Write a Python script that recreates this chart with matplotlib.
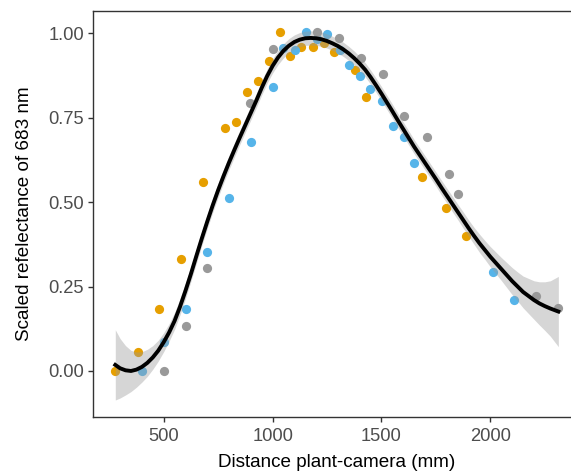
import numpy as np
import matplotlib
matplotlib.use("Agg")
import matplotlib.pyplot as plt

plt.rcParams['font.family'] = ['Liberation Sans', 'DejaVu Sans']

#%% data
orange_x = [278, 381, 480, 581, 682, 783, 832, 884, 932, 983, 1033, 1081, 1132,
            1185, 1234, 1283, 1379, 1430, 1687, 1794, 1889]
orange_y = [0.000, 0.055, 0.183, 0.333, 0.559, 0.718, 0.737, 0.825, 0.860, 0.917,
            1.003, 0.934, 0.959, 0.959, 0.970, 0.944, 0.892, 0.810, 0.573, 0.484, 0.401]

blue_x = [401, 500, 603, 700, 801, 902, 1002, 1050, 1104, 1155, 1204, 1252, 1311,
          1349, 1402, 1448, 1502, 1555, 1603, 1651, 2012, 2110]
blue_y = [0.000, 0.085, 0.183, 0.352, 0.511, 0.677, 0.841, 0.956, 0.949, 1.003,
          0.983, 0.998, 0.951, 0.906, 0.872, 0.834, 0.798, 0.724, 0.694, 0.617,
          0.294, 0.209]

grey_x = [500, 603, 700, 895, 1004, 1206, 1303, 1407, 1506, 1605, 1708, 1809,
          1853, 2210, 2312]
grey_y = [0.000, 0.134, 0.305, 0.793, 0.954, 1.003, 0.985, 0.928, 0.879, 0.756,
          0.694, 0.583, 0.525, 0.221, 0.186]

# smoother (loess) line and its confidence band, read every ~25 mm
fit_x = [278, 300, 325, 350, 375, 400, 425, 450, 475, 500, 525, 550, 575, 600,
         625, 650, 675, 700, 725, 750, 775, 800, 825, 850, 875, 900, 925, 950,
         975, 1000, 1025, 1050, 1075, 1100, 1125, 1150, 1175, 1200, 1225, 1250,
         1275, 1300, 1325, 1350, 1375, 1400, 1425, 1450, 1475, 1500, 1525, 1550,
         1575, 1600, 1625, 1650, 1675, 1700, 1725, 1750, 1775, 1800, 1825, 1850,
         1875, 1900, 1925, 1950, 1975, 2000, 2025, 2050, 2075, 2100, 2125, 2150,
         2175, 2200, 2225, 2250, 2275, 2312]
fit_y = [0.018, 0.008, 0.002, 0.000, 0.004, 0.012, 0.024, 0.040, 0.060, 0.085,
         0.114, 0.148, 0.190, 0.237, 0.287, 0.340, 0.392, 0.442, 0.490, 0.535,
         0.577, 0.617, 0.655, 0.692, 0.728, 0.764, 0.800, 0.838, 0.873, 0.903,
         0.928, 0.948, 0.963, 0.974, 0.981, 0.985, 0.986, 0.985, 0.982, 0.977,
         0.970, 0.962, 0.952, 0.940, 0.926, 0.910, 0.892, 0.870, 0.846, 0.821,
         0.795, 0.769, 0.742, 0.716, 0.690, 0.664, 0.640, 0.616, 0.592, 0.568,
         0.543, 0.519, 0.495, 0.471, 0.447, 0.423, 0.400, 0.378, 0.358, 0.338,
         0.320, 0.302, 0.284, 0.266, 0.250, 0.234, 0.222, 0.210, 0.200, 0.192,
         0.185, 0.176]
fit_se = [0.104, 0.088, 0.073, 0.061, 0.052, 0.045, 0.040, 0.035, 0.031, 0.028,
          0.026, 0.025, 0.024, 0.023, 0.022, 0.022, 0.021, 0.021, 0.021, 0.021,
          0.021, 0.021, 0.021, 0.021, 0.021, 0.021, 0.021, 0.021, 0.021, 0.021,
          0.021, 0.021, 0.021, 0.021, 0.021, 0.021, 0.021, 0.021, 0.021, 0.021,
          0.021, 0.021, 0.021, 0.021, 0.021, 0.021, 0.021, 0.021, 0.021, 0.021,
          0.021, 0.021, 0.021, 0.021, 0.021, 0.021, 0.021, 0.021, 0.021, 0.021,
          0.022, 0.022, 0.023, 0.023, 0.024, 0.024, 0.025, 0.027, 0.028, 0.030,
          0.032, 0.034, 0.037, 0.040, 0.043, 0.047, 0.052, 0.057, 0.064, 0.072,
          0.082, 0.104]

#%% plot
fig = plt.figure(figsize=(5.71, 4.75), dpi=100)
# panel runs past the right edge of the image (reference is cropped there)
ax = fig.add_axes([0.163, 0.123, 0.853, 0.854])

ax.scatter(orange_x, orange_y, s=44, color='#E69F00', linewidths=0, zorder=2)
ax.scatter(blue_x, blue_y, s=44, color='#56B4E9', linewidths=0, zorder=2)
ax.scatter(grey_x, grey_y, s=44, color='#999999', linewidths=0, zorder=2)

fx = np.array(fit_x)
fy = np.array(fit_y)
se = np.array(fit_se)
ax.fill_between(fx, fy - se, fy + se, color='#999999', alpha=0.4, linewidth=0, zorder=3)
ax.plot(fx, fy, color='black', linewidth=2.8, zorder=4, solid_joinstyle='round')

ax.set_xlim(176, 2412)
ax.set_ylim(-0.135, 1.066)
ax.set_xticks([500, 1000, 1500, 2000])
ax.set_yticks([0.0, 0.25, 0.5, 0.75, 1.0])
ax.set_yticklabels(['0.00', '0.25', '0.50', '0.75', '1.00'])

for s in ax.spines.values():
    s.set_color('#333333')
    s.set_linewidth(1.0)
ax.tick_params(length=3.5, width=1.0, color='#333333', labelcolor='#4D4D4D',
               labelsize=13.2)
ax.tick_params(axis='x', pad=5)
ax.tick_params(axis='y', pad=3)

ax.set_xlabel('Distance plant-camera (mm)', fontsize=13.6, labelpad=6)
ax.set_ylabel('Scaled refelectance of 683 nm', fontsize=13.6, labelpad=11)

plt.savefig('out.png', dpi=100)
